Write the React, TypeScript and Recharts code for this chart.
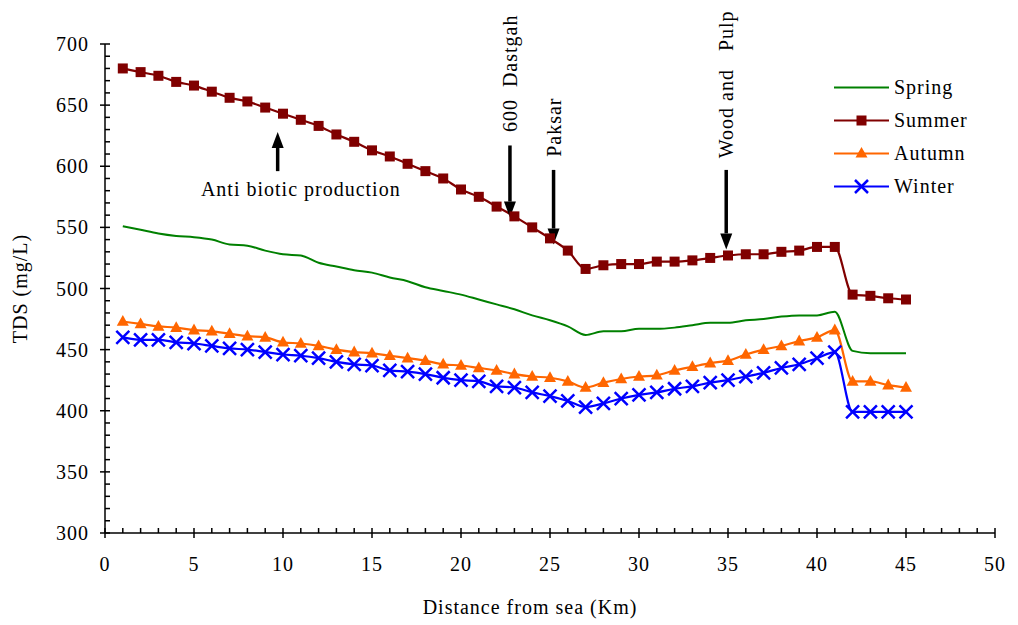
import React from "react";
import { LineChart, Line, XAxis, YAxis, ReferenceLine, ReferenceDot } from "recharts";

const FONT = '"Liberation Serif", "Times New Roman", serif';

// distance from sea (km)
const km = [1, 2, 3, 4, 5, 6, 7, 8, 9, 10, 11, 12, 13, 14, 15, 16, 17, 18, 19, 20, 21, 22, 23, 24, 25, 26, 27, 28, 29, 30, 31, 32, 33, 34, 35, 36, 37, 38, 39, 40, 41, 42, 43, 44, 45];

// TDS (mg/L) per season
const spring = [551, 548, 545, 543, 542, 540, 536, 535, 531, 528, 527, 521, 518, 515, 513, 509, 506, 501, 498, 495, 491, 487, 483, 478, 474, 469, 462, 465, 465, 467, 467, 468, 470, 472, 472, 474, 475, 477, 478, 478, 481, 449, 447, 447, 447];
const summer = [680, 677, 674, 669, 666, 661, 656, 653, 648, 643, 638, 633, 626, 620, 613, 608, 602, 596, 590, 581, 575, 567, 559, 550, 541, 531, 516, 519, 520, 520, 522, 522, 523, 525, 527, 528, 528, 530, 531, 534, 534, 495, 494, 492, 491];
const autumn = [473, 471, 469, 468, 466, 465, 463, 461, 460, 456, 455, 453, 450, 448, 447, 445, 443, 441, 438, 437, 435, 433, 430, 428, 427, 424, 419, 423, 426, 428, 429, 433, 436, 439, 441, 446, 450, 453, 457, 460, 466, 424, 424, 421, 419];
const winter = [460, 458, 458, 456, 455, 453, 451, 450, 448, 446, 445, 443, 440, 438, 437, 433, 432, 430, 427, 425, 424, 420, 419, 415, 412, 408, 403, 406, 410, 413, 415, 418, 420, 423, 425, 428, 431, 435, 438, 443, 448, 399, 399, 399, 399];

const xTicks = [0, 1, 2, 3, 4, 5, 6, 7, 8, 9, 10, 11, 12, 13, 14, 15, 16, 17, 18, 19, 20, 21, 22, 23, 24, 25, 26, 27, 28, 29, 30, 31, 32, 33, 34, 35, 36, 37, 38, 39, 40, 41, 42, 43, 44, 45, 46, 47, 48, 49, 50];
const yTicks = [300, 310, 320, 330, 340, 350, 360, 370, 380, 390, 400, 410, 420, 430, 440, 450, 460, 470, 480, 490, 500, 510, 520, 530, 540, 550, 560, 570, 580, 590, 600, 610, 620, 630, 640, 650, 660, 670, 680, 690, 700];

// annotation arrows: x (km), from (tail), to (tip)
const arrows = [
  { x: 9.7, from: 596, to: 628 },
  { x: 22.75, from: 617, to: 558 },
  { x: 25.2, from: 597, to: 536 },
  { x: 34.9, from: 597, to: 532 },
];
// annotation texts: x (km), y (mg/L), rotated or not
const notes = [
  { x: 11, y: 581, text: "Anti biotic production", vertical: false },
  { x: 22.75, y: 676, text: "600  Dastgah", vertical: true },
  { x: 25.2, y: 632, text: "Paksar", vertical: true },
  { x: 34.9, y: 667, text: "Wood and   Pulp", vertical: true },
];

const data = km.map((k, i) => ({
  km: k,
  spring: spring[i],
  summer: summer[i],
  autumn: autumn[i],
  winter: winter[i],
}));

const COLORS = { spring: "#008000", summer: "#800000", autumn: "#ff6600", winter: "#0000ff" };

const textStyle = { fontFamily: FONT, fontSize: 20, letterSpacing: 1, fill: "#000" };

function XTick(props: any) {
  const { x, y, payload } = props;
  const v = payload.value;
  const major = v % 5 === 0;
  return (
    <g>
      <line x1={x} x2={x} y1={y - 5} y2={major ? y + 5 : y} stroke="#000" strokeWidth={1.5} />
      {major && (
        <text x={x} y={y + 38} textAnchor="middle" style={textStyle}>
          {v}
        </text>
      )}
    </g>
  );
}

function YTick(props: any) {
  const { x, y, payload } = props;
  const v = payload.value;
  const major = v % 50 === 0;
  return (
    <g>
      <line x1={major ? x - 5 : x} x2={x + 5} y1={y} y2={y} stroke="#000" strokeWidth={1.5} />
      {major && (
        <text x={x - 16} y={y} dy="0.35em" textAnchor="end" style={textStyle}>
          {v}
        </text>
      )}
    </g>
  );
}

function square(color: string, size: number) {
  return (p: any) => (
    <rect key={`sq-${p.index}`} x={p.cx - size / 2} y={p.cy - size / 2} width={size} height={size} fill={color} />
  );
}

function triangle(color: string, size: number) {
  return (p: any) => {
    const h = size * 0.9;
    return (
      <path
        key={`tr-${p.index}`}
        d={`M${p.cx},${p.cy - h * 0.6} L${p.cx + size / 2},${p.cy + h * 0.4} L${p.cx - size / 2},${p.cy + h * 0.4} Z`}
        fill={color}
      />
    );
  };
}

function cross(color: string, size: number) {
  return (p: any) => {
    const s = size / 2;
    return (
      <path
        key={`cr-${p.index}`}
        d={`M${p.cx - s},${p.cy - s} L${p.cx + s},${p.cy + s} M${p.cx - s},${p.cy + s} L${p.cx + s},${p.cy - s}`}
        stroke={color}
        strokeWidth={2.5}
        fill="none"
      />
    );
  };
}

function Arrow(p: any) {
  const { x1, y1, x2, y2 } = p;
  const dir = y2 > y1 ? 1 : -1;
  const head = 16;
  const yb = y2 - dir * head;
  return (
    <g>
      <line x1={x1} y1={y1} x2={x2} y2={yb} stroke="#000" strokeWidth={3.5} />
      <path d={`M${x2},${y2} L${x2 - 6},${yb} L${x2 + 6},${yb} Z`} fill="#000" />
    </g>
  );
}

function noteShape(text: string, vertical: boolean) {
  return (p: any) => (
    <text
      x={p.cx}
      y={p.cy}
      dy="0.35em"
      textAnchor="middle"
      transform={vertical ? `rotate(-90 ${p.cx} ${p.cy})` : undefined}
      style={{ ...textStyle, whiteSpace: "pre" }}
    >
      {text}
    </text>
  );
}

const legendItems = [
  { name: "Spring", color: COLORS.spring, marker: "none" },
  { name: "Summer", color: COLORS.summer, marker: "square" },
  { name: "Autumn", color: COLORS.autumn, marker: "triangle" },
  { name: "Winter", color: COLORS.winter, marker: "cross" },
];

function LegendBox() {
  return (
    <div style={{ position: "absolute", left: 832, top: 71, width: 170, fontFamily: FONT }}>
      {legendItems.map((it) => (
        <div key={it.name} style={{ display: "flex", alignItems: "center", height: 33 }}>
          <svg width={62} height={33}>
            <line x1={2} x2={57} y1={16.5} y2={16.5} stroke={it.color} strokeWidth={2} />
            {it.marker === "square" && <rect x={24.5} y={11.5} width={10} height={10} fill={it.color} />}
            {it.marker === "triangle" && <path d="M29.5,10 L35.5,20.5 L23.5,20.5 Z" fill={it.color} />}
            {it.marker === "cross" && (
              <path d="M23,10 L36,23 M23,23 L36,10" stroke={it.color} strokeWidth={2.5} />
            )}
          </svg>
          <span style={{ fontSize: 20, letterSpacing: 1, color: "#000" }}>{it.name}</span>
        </div>
      ))}
    </div>
  );
}

export default function App() {
  return (
    <div style={{ position: "absolute", left: 0, top: 0, width: 1018, height: 625, background: "#fff" }}>
      <LineChart width={1018} height={625} data={data} margin={{ top: 44, right: 23, bottom: 0, left: 0 }}>
        <XAxis
          dataKey="km"
          type="number"
          domain={[0, 50]}
          ticks={xTicks}
          interval={0}
          height={92}
          tickSize={0}
          tickMargin={0}
          tickLine={false}
          axisLine={{ stroke: "#000", strokeWidth: 1.5 }}
          tick={<XTick />}
          label={{
            content: (p: any) => {
              const vb = p.viewBox;
              return (
                <text x={vb.x + vb.width / 2 - 20} y={vb.y + 81} textAnchor="middle" style={textStyle}>
                  Distance from sea (Km)
                </text>
              );
            },
          }}
        />
        <YAxis
          type="number"
          domain={[300, 700]}
          ticks={yTicks}
          interval={0}
          width={105}
          tickSize={0}
          tickMargin={0}
          tickLine={false}
          axisLine={{ stroke: "#000", strokeWidth: 1.5 }}
          tick={<YTick />}
          label={{
            content: (p: any) => {
              const vb = p.viewBox;
              const cx = 20;
              const cy = vb.y + vb.height / 2;
              return (
                <text
                  x={cx}
                  y={cy}
                  dy="0.35em"
                  textAnchor="middle"
                  transform={`rotate(-90 ${cx} ${cy})`}
                  style={textStyle}
                >
                  TDS (mg/L)
                </text>
              );
            },
          }}
        />
        <Line
          dataKey="spring"
          name="Spring"
          type="monotone"
          stroke={COLORS.spring}
          strokeWidth={2}
          dot={false}
          isAnimationActive={false}
        />
        <Line
          dataKey="summer"
          name="Summer"
          type="monotone"
          stroke={COLORS.summer}
          strokeWidth={2.2}
          dot={square(COLORS.summer, 10)}
          isAnimationActive={false}
        />
        <Line
          dataKey="autumn"
          name="Autumn"
          type="monotone"
          stroke={COLORS.autumn}
          strokeWidth={2.2}
          dot={triangle(COLORS.autumn, 12)}
          isAnimationActive={false}
        />
        <Line
          dataKey="winter"
          name="Winter"
          type="monotone"
          stroke={COLORS.winter}
          strokeWidth={2.2}
          dot={cross(COLORS.winter, 13)}
          isAnimationActive={false}
        />
        {arrows.map((a, i) => (
          <ReferenceLine
            key={`ar-${i}`}
            segment={[
              { x: a.x, y: a.from },
              { x: a.x, y: a.to },
            ]}
            shape={Arrow}
            ifOverflow="visible"
          />
        ))}
        {notes.map((n, i) => (
          <ReferenceDot
            key={`nt-${i}`}
            x={n.x}
            y={n.y}
            r={0}
            shape={noteShape(n.text, n.vertical)}
            ifOverflow="visible"
          />
        ))}
      </LineChart>
      <LegendBox />
    </div>
  );
}
